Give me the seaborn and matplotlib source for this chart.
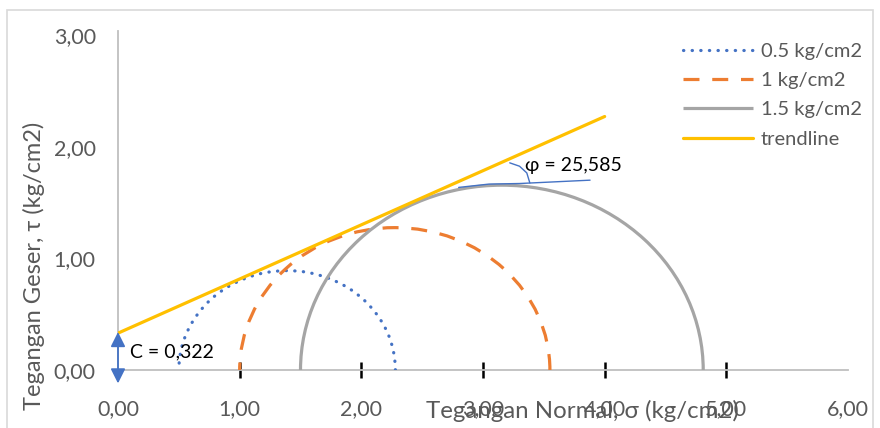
import matplotlib
matplotlib.use("Agg")
import matplotlib.pyplot as plt
import seaborn as sns
from matplotlib.patches import Arc, Rectangle
from matplotlib.lines import Line2D

# ---- data ----
series_labels = ["0.5 kg/cm2", "1 kg/cm2", "1.5 kg/cm2"]
sigma3 = [0.50, 1.00, 1.50]
sigma1 = [2.28, 3.55, 4.81]
trend_x = [0.0, 4.0]
trend_y = [0.33, 2.27]
cohesion = 0.322
phi_deg = 25.585
x_ticks = [0, 1, 2, 3, 4, 5, 6]
y_ticks = [0, 1, 2, 3]
phi_marker_x = [2.80, 3.05, 3.30, 3.88]
phi_marker_y = [1.635, 1.665, 1.67, 1.70]
phi_arc_x = [3.22, 3.30, 3.36, 3.385]
phi_arc_y = [1.855, 1.825, 1.765, 1.675]

colors = ["#4472C4", "#ED7D31", "#A5A5A5"]
styles = [(0, (0.1, 2.6)), (0, (5.0, 4.0)), "-"]
caps = ["round", "butt", "butt"]
trend_color = "#FFC000"

sns.set_style("white")
plt.rcParams["font.family"] = ["Lato", "DejaVu Sans"]

fig = plt.figure(figsize=(8.8, 4.28), dpi=100)
ax = fig.add_axes([118 / 880, 1 - 370 / 428, 730 / 880, 335 / 428])
ax.xaxis.remove_overlapping_locs = False

# figure border
fig.patches.append(Rectangle((7 / 880, -0.01), 866 / 880, 1 - 10 / 428 + 0.01,
                             transform=fig.transFigure, fill=False,
                             edgecolor="#D9D9D9", lw=1.2, zorder=0))

lw = 2.3
for s3, s1, c, ls, cap in zip(sigma3, sigma1, colors, styles, caps):
    d = s1 - s3
    arc = Arc(((s1 + s3) / 2, 0), d, d, theta1=0, theta2=180,
              color=c, lw=lw, linestyle=ls, zorder=3)
    arc.set_capstyle(cap)
    ax.add_patch(arc)

sns.lineplot(x=trend_x, y=trend_y, ax=ax, color=trend_color, lw=2.3,
             zorder=5, legend=False)

# phi annotation
ax.plot(phi_marker_x, phi_marker_y, color="#4472C4", lw=1.0, zorder=6)
ax.plot(phi_arc_x, phi_arc_y, color="#4472C4", lw=1.0, zorder=6)
ax.text(3.345, 1.83, f"φ = {str(phi_deg).replace('.', ',')}", fontsize=14,
        color="black", va="center", ha="left", zorder=7)

# cohesion arrow
ax.annotate("", xy=(0, 0.34), xytext=(0, -0.12),
            arrowprops=dict(arrowstyle="<|-|>", color="#4472C4", lw=1.3,
                            mutation_scale=22, shrinkA=0, shrinkB=0),
            annotation_clip=False, zorder=7)
ax.text(0.095, 0.165, f"C = {str(cohesion).replace('.', ',')}", fontsize=14,
        color="black", va="center", ha="left", zorder=7)

ax.set_xlim(0, 6)
ax.set_ylim(0, 3)
ax.set_xticks(x_ticks)
ax.set_xticklabels([f"{v:.2f}".replace(".", ",") for v in x_ticks])
ax.set_yticks(y_ticks)
ax.set_yticklabels([f"{v:.2f}".replace(".", ",") for v in y_ticks])
ax.set_xticks(x_ticks[1:-1], minor=True)
ax.tick_params(axis="both", which="major", length=0, labelsize=15.5,
               labelcolor="#595959")
ax.tick_params(axis="x", which="major", pad=21)
ax.tick_params(axis="y", which="major", pad=16)
ax.tick_params(axis="x", which="minor", length=11, width=1.8,
               color="black", direction="inout", bottom=True)

for side in ["top", "right"]:
    ax.spines[side].set_visible(False)
for side in ["left", "bottom"]:
    ax.spines[side].set_color("#BFBFBF")
    ax.spines[side].set_linewidth(1.3)
ax.spines["left"].set_bounds(0, 3.04)
ax.set_facecolor("none")

fig.text(582 / 880, 1 - 411 / 428, "Tegangan Normal, σ (kg/cm2)", fontsize=17.3,
         color="#595959", ha="center", va="center")
fig.text(34 / 880, 1 - 266 / 428, "Tegangan Geser, τ (kg/cm2)", fontsize=17,
         color="#595959", ha="center", va="center", rotation=90)

handles = [Line2D([], [], color=c, lw=lw, linestyle=ls, dash_capstyle=cap,
                  solid_capstyle="butt")
           for c, ls, cap in zip(colors, styles, caps)]
handles.append(Line2D([], [], color=trend_color, lw=2.3))
fig.legend(handles, series_labels + ["trendline"], loc="upper left",
           bbox_to_anchor=(683 / 880, 1 - 43 / 428),
           bbox_transform=fig.transFigure, frameon=False, fontsize=14.5,
           labelcolor="#595959", handlelength=3.5, handletextpad=0.35,
           borderpad=0, borderaxespad=0, labelspacing=0.6)

fig.savefig("out.png", dpi=100)
